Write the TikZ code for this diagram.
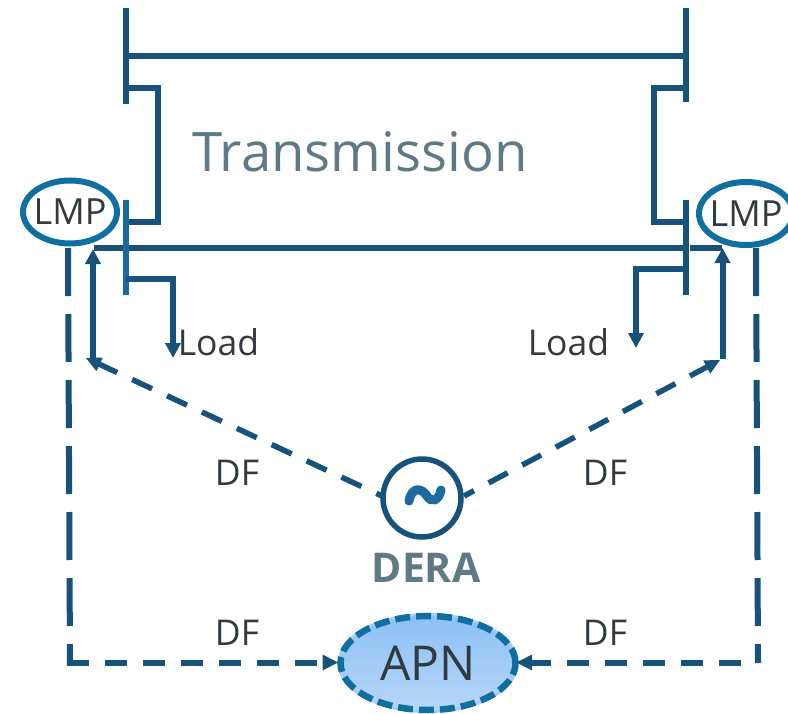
\documentclass[tikz,border=0pt]{standalone}
\usepackage{fontspec}
\setmainfont{Open Sans}
\usetikzlibrary{arrows.meta,shapes.geometric,calc}
\definecolor{dk}{HTML}{17527A}
\definecolor{midb}{HTML}{1B6A9E}
\definecolor{lmpc}{HTML}{0F6FA0}
\definecolor{txt}{HTML}{2F3B40}
\definecolor{slate}{HTML}{5F7A85}
\definecolor{apnedge}{HTML}{A6CDF5}
\tikzset{
 line/.style={draw=dk,line width=6bp},
 tip/.style={-{Triangle[length=15bp,width=15bp]}},
 dashline/.style={draw=dk,line width=5.5bp,dash pattern=on 22bp off 16.5bp,dash phase=22bp},
 longdash/.style={draw=dk,line width=6bp,dash pattern=on 48bp off 18bp},
 hdash/.style={draw=dk,line width=6bp,dash pattern=on 22bp off 16bp},
 lbl/.style={text=txt,font=\fontsize{35.5bp}{38bp}\selectfont,inner sep=0pt},
 lmpnode/.style={ellipse,draw=lmpc,line width=6bp,minimum width=94bp,minimum height=63bp,inner ysep=0pt,inner xsep=-6bp,text=txt,font=\fontsize{36bp}{38bp}\selectfont},
}
\begin{document}
\begin{tikzpicture}[x=1bp,y=-1bp]
\useasboundingbox (0,0) rectangle (788,714);
% buses
\coordinate (tl1) at (126,8); \coordinate (tl2) at (126,104);
\coordinate (tr1) at (686,8); \coordinate (tr2) at (686,102);
\coordinate (bl1) at (126,200); \coordinate (bl2) at (126,295);
\coordinate (br1) at (686,200); \coordinate (br2) at (686,295);
\draw[line] (tl1) -- (tl2);
\draw[line] (tr1) -- (tr2);
\draw[line] (126,56) -- (686,56);
\draw[line,line join=miter] (126,88) -- (158,88) -- (158,222) -- (126,222);
\draw[line,line join=miter] (686,88) -- (654,88) -- (654,222) -- (686,222);
\draw[line] (94,248) -- (686,248);
\draw[line] (690,248) -- (722,248);
\draw[line,draw=midb] (bl1) -- (bl2);
\draw[line] (br1) -- (br2);
% load arrows
\coordinate (ll) at (173,358); \coordinate (lr) at (636,348);
\draw[line,tip] (126,279) -- (173,279) -- (ll);
\draw[line,tip] (686,269) -- (636,269) -- (lr);
% LMP
\node[lmpnode] (lmpL) at (70,212) {LMP};
\node[lmpnode] (lmpR) at (746,213.5) {LMP};
% generator
\node[circle,draw=dk,line width=5.5bp,minimum size=78bp,inner sep=0pt] (gen) at (422,498) {};
\draw[draw=midb,line width=9bp,line cap=round] (409,501) .. controls (412,486) and (422,488) .. (427,496) .. controls (431,503) and (439,501) .. (441,490);
\node[text=slate,font=\bfseries\fontsize{41bp}{44bp}\selectfont,inner sep=0pt] (dera) at (426,568) {DERA};
% APN
\node[ellipse,minimum width=175bp,minimum height=94bp,inner sep=0pt,
 preaction={draw=apnedge,line width=6bp,solid},draw=lmpc,line width=6.5bp,dash pattern=on 15bp off 6bp,
 top color={rgb,255:red,140;green,192;blue,245},bottom color={rgb,255:red,184;green,214;blue,248},text=txt,font=\fontsize{48bp}{52bp}\selectfont] (apn) at (428,663) {APN};
% up arrows
\coordinate (aL1) at (93,249); \coordinate (aL2) at (93,360);
\coordinate (aR1) at (722.5,248); \coordinate (aR2) at (722.5,359);
\draw[line,tip] (aL2) -- (aL1);
\draw[line,tip] (aR2) -- (aR1);
% dashed from generator
\coordinate (dL) at (86,358); \coordinate (dR) at (720,360);
\coordinate (gL) at (382,496); \coordinate (gR) at (464,496);
\draw[draw=dk,line width=5.5bp] ($(dL)!10bp!(gL)$) -- ($(dL)!34.4bp!(gL)$);
\draw[dashline] ($(dL)!34.4bp!(gL)$) -- (gL);
\draw[draw=dk,line width=5.5bp] ($(dR)!10bp!(gR)$) -- ($(dR)!34bp!(gR)$);
\draw[dashline,dash pattern=on 21.5bp off 16.5bp,dash phase=21.5bp] ($(dR)!34bp!(gR)$) -- (gR);
\fill[dk] (dL) -- ($(dL)!15bp!(gL)!7.5bp!90:(gL)$) -- ($(dL)!15bp!(gL)!7.5bp!-90:(gL)$) -- cycle;
\fill[dk] (dR) -- ($(dR)!15bp!(gR)!7.5bp!90:(gR)$) -- ($(dR)!15bp!(gR)!7.5bp!-90:(gR)$) -- cycle;
% LMP to APN
\coordinate (fl) at (68,248); \coordinate (fr) at (756,248);
\coordinate (al) at (338,662.5); \coordinate (ar) at (516.5,662.5);
\draw[longdash] (fl) -- (70,665);
\draw[hdash] (67,662.5) -- (323,662.5);
\fill[dk] (al) -- ++(-15.5,-8) -- ++(0,16) -- cycle;
\draw[longdash] (fr) -- (758,663);
\draw[hdash] (741,662.5) -- (530,662.5);
\fill[dk] (ar) -- ++(15.5,-8) -- ++(0,16) -- cycle;
% labels
\node[text=slate,font=\fontsize{54.5bp}{60bp}\selectfont,inner sep=0pt] (title) at (360,152) {Transmission};
\node[lbl] (loadL) at (218.5,342) {Load};
\node[lbl] (loadR) at (568.5,342) {Load};
\node[lbl] (df1) at (237,473) {DF};
\node[lbl] (df2) at (605,473) {DF};
\node[lbl] (df3) at (237,633) {DF};
\node[lbl] (df4) at (605,633) {DF};
\end{tikzpicture}
\end{document}
